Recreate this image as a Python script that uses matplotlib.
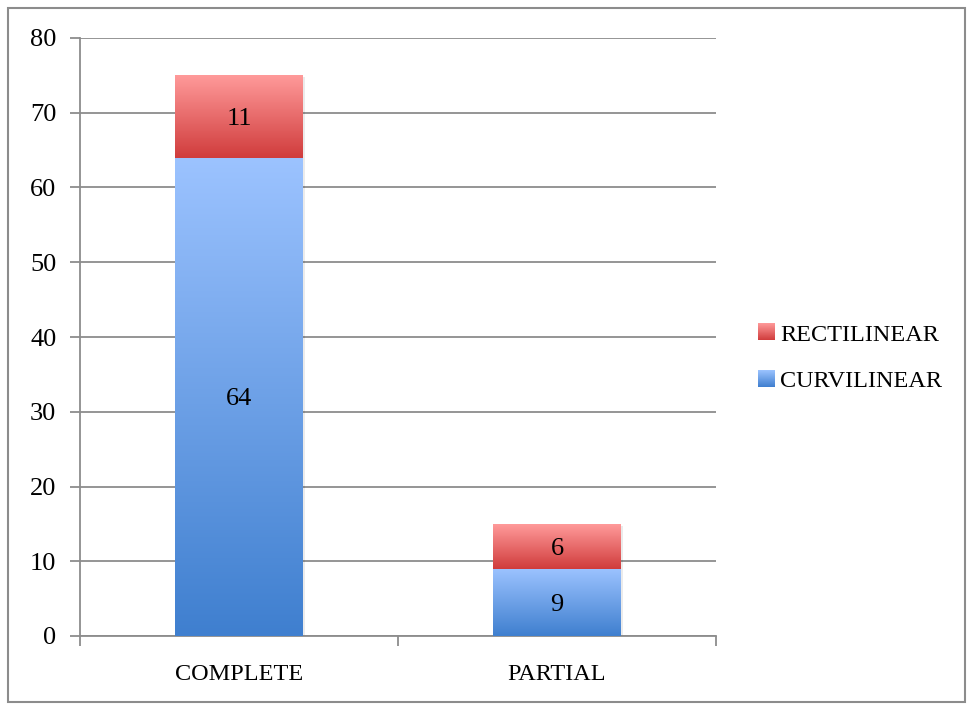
import numpy as np
import matplotlib.pyplot as plt
from matplotlib.patches import Rectangle
from matplotlib.legend_handler import HandlerBase
from matplotlib.image import BboxImage
from matplotlib.transforms import Bbox, TransformedBbox
from matplotlib.colors import LinearSegmentedColormap

categories = ["COMPLETE", "PARTIAL"]
curvilinear = [64, 9]
rectilinear = [11, 6]

plt.rcParams['font.family'] = ['Liberation Serif', 'DejaVu Serif']

blue_cmap = LinearSegmentedColormap.from_list("blue", ["#3f7fcf", "#9cc3ff"])
red_cmap = LinearSegmentedColormap.from_list("red", ["#d03c3c", "#ff9a9a"])
grad = np.linspace(0, 1, 256).reshape(-1, 1)


class GradHandler(HandlerBase):
    def __init__(self, cmap):
        super().__init__()
        self.cmap = cmap

    def create_artists(self, legend, orig_handle, xdescent, ydescent,
                       width, height, fontsize, trans):
        s = min(width, height) * 0.95
        bb = Bbox.from_bounds(-xdescent + width - s, -ydescent + (height - s) / 2, s, s)
        img = BboxImage(TransformedBbox(bb, trans), cmap=self.cmap, origin="lower")
        img.set_data(grad)
        return [img]


fig = plt.figure(figsize=(9.67, 7.04), dpi=100)
fig.patches.append(Rectangle((8 / 967, 2 / 704), 957 / 967, 694 / 704,
                             transform=fig.transFigure, fill=False,
                             edgecolor="#8c8c8c", linewidth=1.5))
ax = fig.add_axes([80 / 967, 1 - 636 / 704, 636 / 967, 598 / 704])

x = np.arange(len(categories))
width = 0.4
b1 = ax.bar(x, curvilinear, width, color="none", zorder=3)
b2 = ax.bar(x, rectilinear, width, bottom=curvilinear, color="none", zorder=3)

for bars, cmap in [(b1, blue_cmap), (b2, red_cmap)]:
    for p in bars:
        x0, y0 = p.get_x(), p.get_y()
        w, h = p.get_width(), p.get_height()
        # soft shadow
        ax.add_patch(Rectangle((x0 + 0.006, y0 - 0.25), w, h, color="#000000",
                               alpha=0.08, zorder=2, linewidth=0))
        ax.imshow(grad, cmap=cmap, origin="lower", aspect="auto",
                  extent=(x0, x0 + w, y0, y0 + h), zorder=3)
        ax.text(x0 + w / 2, y0 + h / 2, str(int(h)), ha="center",
                va="center_baseline", fontsize=19, color="black", zorder=4)

ax.set_xlim(-0.5, 1.5)
ax.set_ylim(0, 80)
ax.set_yticks(range(0, 81, 10))
ax.yaxis.grid(True, color="#8c8c8c", linewidth=1.3, zorder=1)
ax.set_axisbelow(True)

ax.set_xticks(x)
ax.set_xticklabels(categories)
ax.set_xticks([-0.5, 0.5, 1.5], minor=True)
ax.tick_params(axis="x", which="major", length=0, pad=20, labelsize=17.5)
ax.tick_params(axis="x", which="minor", length=7, width=1.3, color="#8c8c8c")
ax.tick_params(axis="y", length=7, width=1.3, color="#8c8c8c", pad=10, labelsize=19)

for s in ["top", "right"]:
    ax.spines[s].set_visible(False)
for s in ["left", "bottom"]:
    ax.spines[s].set_color("#8c8c8c")
    ax.spines[s].set_linewidth(1.3)

h1 = Rectangle((0, 0), 1, 1)
h2 = Rectangle((0, 0), 1, 1)
ax.legend([h2, h1], ["RECTILINEAR", "CURVILINEAR"],
          handler_map={h2: GradHandler(red_cmap), h1: GradHandler(blue_cmap)},
          loc="center left", bbox_to_anchor=(1.026, 0.465), frameon=False,
          fontsize=17.5, handlelength=0.8, handletextpad=0.25, labelspacing=1.0)

fig.savefig("out.png", dpi=100)
